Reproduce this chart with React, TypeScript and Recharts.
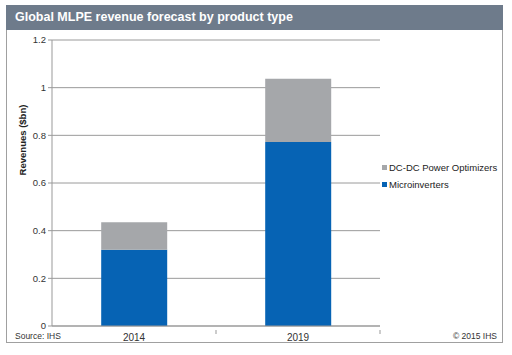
import { BarChart, Bar, XAxis, YAxis, CartesianGrid } from "recharts";

const years = ["2014", "2019"];
const microinverters = [0.32, 0.772];
const powerOptimizers = [0.115, 0.265];
const yTicks = [0, 0.2, 0.4, 0.6, 0.8, 1, 1.2];

const data = years.map((year, i) => ({
  year,
  micro: microinverters[i],
  dcdc: powerOptimizers[i],
}));

const FONT = '"Liberation Sans", Arial, sans-serif';
const BLUE = "#0663b4";
const GREY = "#a5a7aa";

function XTick(props: any) {
  const { x, y, payload } = props;
  return (
    <g>
      <line x1={x + 82} y1={y - 4} x2={x + 82} y2={y} stroke="#999" />
      <text x={x} y={y + 7} textAnchor="middle" fontSize={10} fill="#333" fontFamily={FONT}>
        {payload.value}
      </text>
    </g>
  );
}

function LegendBox() {
  const items = [
    { label: "DC-DC Power Optimizers", color: GREY },
    { label: "Microinverters", color: BLUE },
  ];
  return (
    <div style={{ position: "absolute", left: 382, top: 159, fontFamily: FONT, fontSize: 9.5, color: "#222" }}>
      {items.map((it) => (
        <div key={it.label} style={{ display: "flex", alignItems: "center", height: 17 }}>
          <span style={{ width: 5, height: 5, background: it.color, marginRight: 2 }} />
          {it.label}
        </div>
      ))}
    </div>
  );
}

export default function App() {
  return (
    <div style={{ position: "absolute", left: 0, top: 0, width: 512, height: 355, background: "#fff", fontFamily: FONT }}>
      <div
        style={{
          position: "absolute",
          left: 6,
          top: 5,
          width: 497,
          height: 338,
          border: "1px solid #a0a0a0",
          boxSizing: "border-box",
        }}
      />
      <div
        style={{
          position: "absolute",
          left: 6,
          top: 5,
          width: 497,
          height: 25,
          background: "#6e7b8b",
          color: "#fff",
          fontWeight: "bold",
          fontSize: 12.5,
          lineHeight: "25px",
          paddingLeft: 9,
          boxSizing: "border-box",
        }}
      >
        Global MLPE revenue forecast by product type
      </div>
      <div
        style={{
          position: "absolute",
          left: 22,
          top: 140,
          transform: "translate(-50%, -50%) rotate(-90deg)",
          fontSize: 9.5,
          fontWeight: "bold",
          color: "#222",
          whiteSpace: "nowrap",
        }}
      >
        Revenues ($bn)
      </div>
      <div style={{ position: "absolute", left: 15, top: 331, fontSize: 8.5, color: "#333" }}>Source: IHS</div>
      <div style={{ position: "absolute", right: 15, top: 331, fontSize: 8.5, color: "#333" }}>© 2015 IHS</div>
      <div style={{ position: "absolute", left: 0, top: 0 }}>
        <BarChart width={512} height={355} data={data} margin={{ top: 40, right: 132, bottom: 9, left: 22 }} barCategoryGap="30%">
          <CartesianGrid vertical={false} stroke="#9a9a9a" />
          <XAxis
            dataKey="year"
            stroke="#999"
            tickLine={false}
            height={20}
            tick={<XTick />}
            interval={0}
          />
          <YAxis
            domain={[0, 1.2]}
            ticks={yTicks}
            width={30}
            stroke="#999"
            tickSize={4}
            tick={{ fontSize: 9.5, fill: "#333", fontFamily: FONT }}
            tickFormatter={(v: number) => String(v)}
          />
          <Bar dataKey="micro" stackId="a" fill={BLUE} isAnimationActive={false} />
          <Bar dataKey="dcdc" stackId="a" fill={GREY} isAnimationActive={false} />
        </BarChart>
      </div>
      <LegendBox />
    </div>
  );
}
